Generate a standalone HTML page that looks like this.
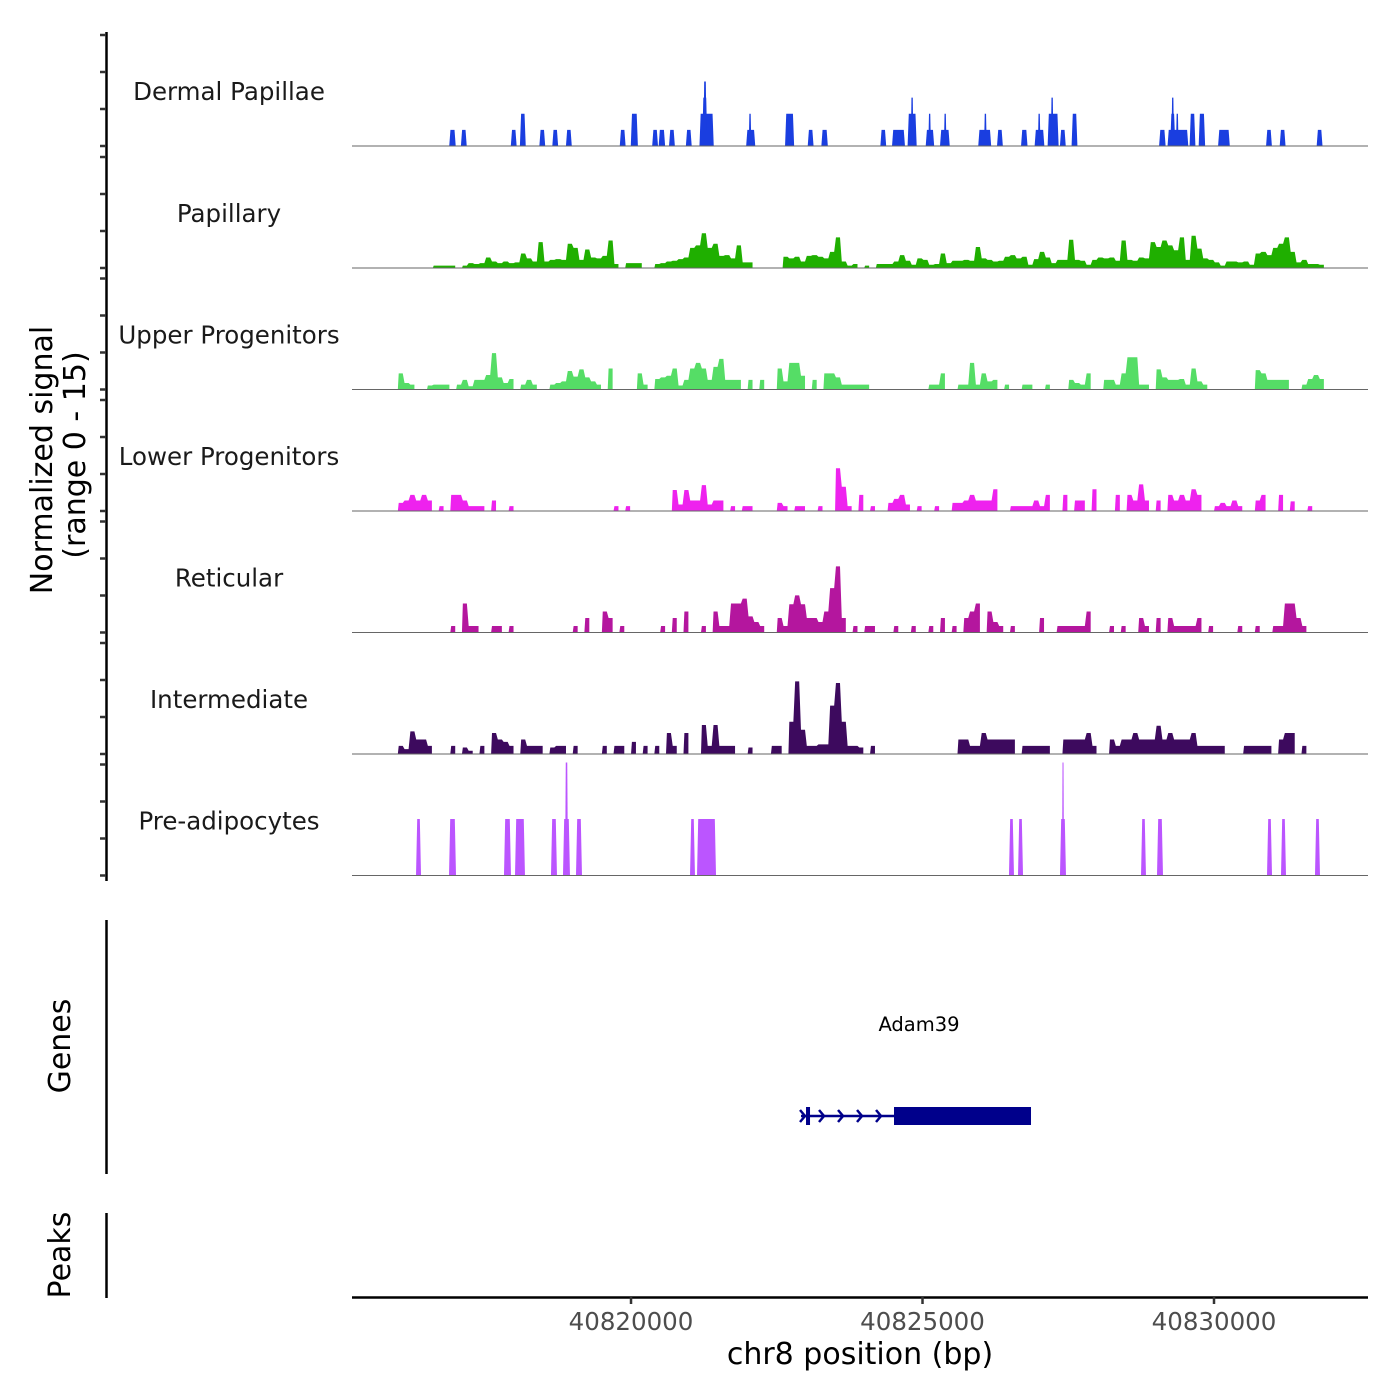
<!DOCTYPE html>
<html><head><meta charset="utf-8"><style>
html,body{margin:0;padding:0;background:#fff;}
svg{display:block;font-family:"DejaVu Sans","Liberation Sans",sans-serif;}
</style></head><body>
<svg id="chart" width="1400" height="1400" viewBox="0 0 1400 1400" xmlns="http://www.w3.org/2000/svg">
<rect x="0" y="0" width="1400" height="1400" fill="#fff"/>
<g id="tracks"></g>
<g id="leftaxis"></g>
<text transform="translate(52,460) rotate(-90)" text-anchor="middle" font-size="30" fill="#000">Normalized signal</text>
<text transform="translate(85,455) rotate(-90)" text-anchor="middle" font-size="30" fill="#000">(range 0 - 15)</text>
<line x1="106.5" y1="920" x2="106.5" y2="1174" stroke="#000" stroke-width="2.5"/>
<text transform="translate(70,1046) rotate(-90)" text-anchor="middle" font-size="30" fill="#000">Genes</text>
<line x1="106.5" y1="1213" x2="106.5" y2="1298" stroke="#000" stroke-width="2.5"/>
<text transform="translate(70,1255) rotate(-90)" text-anchor="middle" font-size="30" fill="#000">Peaks</text>
<g id="gene"></g>
<g id="xaxis"></g>
<text x="860" y="1364" text-anchor="middle" font-size="30" fill="#000">chr8 position (bp)</text>
</svg>
<script>
const NS="http://www.w3.org/2000/svg";
const trackNames=["Dermal Papillae","Papillary","Upper Progenitors","Lower Progenitors","Reticular","Intermediate","Pre-adipocytes"];
const trackColors=["#1a3ee0","#1faf00","#55dd66","#ee22ee","#b4169e","#3d0a5e","#bb55ff"];
const xTicks=[40820000,40825000,40830000];
const binStart=40815200;
const binSize=100;
// block tracks: [start, end, height]
const dermalBlocks=[[40816882,40816993,2],[40817082,40817182,2],[40817938,40818038,2],[40818094,40818194,4],[40818428,40818528,2],[40818650,40818750,2],[40818884,40818984,2],[40819807,40819907,2],[40819996,40820118,4],[40820363,40820463,2],[40820474,40820585,2],[40820652,40820752,2],[40820941,40821041,2],[40821174,40821419,4],[40821220,40821310,6],[40821241,40821297,8],[40821975,40822131,2],[40822019,40822064,4],[40822642,40822798,4],[40823031,40823131,2],[40823265,40823376,2],[40824277,40824377,2],[40824477,40824699,2],[40824744,40824900,4],[40824799,40824844,6],[40825055,40825200,2],[40825100,40825144,4],[40825300,40825467,2],[40825367,40825411,4],[40825956,40826178,2],[40826056,40826101,4],[40826278,40826378,2],[40826690,40826801,2],[40826923,40827090,2],[40826979,40827023,4],[40827146,40827335,4],[40827201,40827246,6],[40827357,40827457,2],[40827557,40827657,4],[40829058,40829170,2],[40829203,40829559,2],[40829248,40829336,4],[40829270,40829314,6],[40829348,40829392,4],[40829581,40829681,4],[40829737,40829848,4],[40830070,40830271,2],[40830893,40830993,2],[40831127,40831227,2],[40831761,40831861,2]];
const preadipBlocks=[[40816312,40816398,7],[40816878,40816998,7],[40817821,40817941,7],[40818010,40818181,7],[40818627,40818730,7],[40818833,40818953,7],[40818868,40818919,14],[40819056,40819159,7],[40821012,40821097,7],[40821132,40821458,7],[40826483,40826569,7],[40826638,40826724,7],[40827358,40827461,7],[40827393,40827427,14],[40828748,40828833,7],[40829022,40829125,7],[40830909,40830995,7],[40831149,40831235,7],[40831732,40831818,7]];
// binned tracks (100 bp bins from 40815200)
const papillaryBins=[0,0,0,0,0,0,0,0,0,0, 0,0,0,0,0.3,0.3,0.3,0.3,0,0.3, 0.6,0.5,0.6,1.3,0.8,0.6,0.8,0.6,0.7,1.8, 1.2,0.8,3.2,0.8,1,1.1,1,3,2.5,1, 2.3,1.3,1.2,1.5,3.4,0.5,0,0.6,0.6,0.6, 0,0,0.5,0.6,0.8,0.9,1.1,1.3,2.5,2.8, 4.3,2.5,3,1.5,1.6,1.2,2.8,0.7,0.7,0, 0,0,0,0,1.4,1.2,1.4,0.8,1.5,1.6, 1.4,1.2,2,3.8,0.8,0.3,0.5,0,0.3,0, 0.5,0.5,0.5,0.8,1.6,0.9,0.4,1.2,1,0.4, 0.5,1.8,0.6,0.9,0.9,1,0.9,2.6,1.2,1, 0.8,0.9,1.4,1.6,1.2,1.4,0.4,1.1,2,1.3, 0.6,1,1,3.5,1,0.9,0.4,1,1.3,1.2, 1.3,0.9,3.4,1,0.9,1.3,1.2,3.2,2.6,3.4, 2.8,2.2,3.8,1,4,2.4,1.2,1,0.7,0.3, 0.8,0.8,0.7,0.8,0.4,1.8,2,1.6,2.5,3, 3.8,2,0.7,1,0.5,0.5,0.4,0,0,0, 0,0,0,0,0];
const upperBins=[0,0,0,0,0,0,0,0,2,0.8, 0.6,0,0,0.5,0.6,0.6,0.6,0,0.6,1.2, 0.4,1.2,1.2,1.8,4.5,1.5,0.8,1.3,0,0.6, 1.2,0.6,0,0,0.6,0.8,1,2.3,1.6,2.5, 1.5,1,0.6,0,2.6,0,0,0,0,2, 0.6,0,1.3,1.5,1.7,2.6,0.5,1.2,2.6,3.3, 2.6,1.2,2.8,3.8,1.2,1.2,1.2,0,1.2,0, 1.2,0,0,2.6,1,3.3,3.3,1.7,0,1.2, 0,2,2,1.5,0.6,0.6,0.6,0.6,0.6,0, 0,0,0,0,0,0,0,0,0,0.6, 0.6,2,0,0,0.6,0.6,3.3,0.6,2,1, 1.2,0,0.6,0,0,0.6,0.6,0,0,0.6, 0,0,0,1.2,0.8,0.6,2,0,0,1.2, 1.2,0.6,2,4,4,0.6,0.6,0,2.5,1.5, 1.2,1.2,1.3,0.6,2.6,1,0.6,0,0,0, 0,0,0,0,0,2.4,2,1.2,1.2,1.2, 1.2,0,0,0.6,1.3,1.8,1.3,0,0,0, 0,0,0,0,0];
const lowerBins=[0,0,0,0,0,0,0,0,1,1.3, 2,1.3,2,1.3,0,0.6,0,2,2,1.3, 0.6,0.6,0.6,0,1.3,0,0,0.6,0,0, 0,0,0,0,0,0,0,0,0,0, 0,0,0,0,0,0.6,0,0.6,0,0, 0,0,0,0,0,2.6,0.8,2.6,1.3,1.3, 3.2,0.8,1.3,1.3,0,0.6,0,0.6,0.6,0, 0,0,0,1,0.6,0,0.6,0.6,0,0, 0.6,0,0,5.3,3,0.6,0,2,0,0.6, 0,0,1,1.5,2,0.8,0,0.6,0,0, 0.6,0,0,1,1,1.3,2,1.3,1.3,1.3, 2.7,0,0,0.6,0.6,0.6,0.6,1.3,0.6,2, 0,0,2,0,1.3,1.3,0,2.7,0,0, 0,2,0,2,1.3,3.3,1.3,0,1.3,0, 2,1.3,2,1.3,2.7,2,0,0,0.6,1, 0.6,1.3,0.6,0,0,1.3,2,0,0,2, 0,1.2,0,0,0.6,0,0,0,0,0, 0,0,0,0,0];
const reticularBins=[0,0,0,0,0,0,0,0,0,0, 0,0,0,0,0,0,0,0.8,0,3.6, 0.8,0.8,0,0,0.8,0.8,0,0.8,0,0, 0,0,0,0,0,0,0,0,0.8,0, 1.8,0,0,2.6,1.8,0,0.8,0,0,0, 0,0,0,0.8,0,1.8,0,2.6,0,0, 0.8,0,2.6,0.8,0.8,3.6,3.6,4.2,2,1.3, 0.8,0,0,1.8,0.8,3.5,4.6,3.5,1.8,1.8, 1.3,2.6,5.5,8.2,1.8,0,0.8,0,0.8,0.8, 0,0,0,0.8,0,0,0.8,0,0,0.8, 0,1.8,0,0.8,0,1.8,2.6,3.6,0,2.6, 1.3,0.8,0,0.8,0,0,0,0,1.8,0, 0,0.8,0.8,0.8,0.8,0.8,2.6,0,0,0, 0.8,0,0.8,0,0,1.8,0.8,0,1.8,0, 1.8,0.8,0.8,0.8,0.8,1.8,0,0.8,0,0, 0,0,0.8,0,0,0.8,0,0,0.8,0.8, 3.6,3.6,1.8,0.8,0,0,0,0,0,0, 0,0,0,0,0];
const intermediateBins=[0,0,0,0,0,0,0,0,1,0.6, 2.8,1.8,1.8,1,0,0,0,1,0,0.8, 0.4,0,1,0,2.6,1.8,1.5,1,0,1.8, 1,1,1,0,0.8,1,1,0,1,0, 0,0,0,1,0,1,1,0,1.5,0, 1,0,1,0,2.6,1,0,2.6,0,0, 3.6,1,3.6,1,1,1,0,0,0.8,0, 0,0,1,1,0,4,9,3,1,1, 1.2,1.2,6,8.8,4,1,1,0.8,0,1, 0,0,0,0,0,0,0,0,0,0, 0,0,0,0,1.8,1.8,1,1,2.6,1.8, 1.8,1.8,1.8,1.8,0,1,1,1,1,1, 0,0,1.8,1.8,1.8,1.8,2.6,1,0,0, 1.8,1,1.8,1.8,2.6,1.8,1.8,1.8,3.5,1.8, 2.6,1.8,1.8,1.8,2.6,1,1,1,1,1, 0,0,0,1,1,1,1,1,0,1.8, 2.6,2.6,0,1,0,0,0,0,0,0, 0,0,0,0,0];
const geneName="Adam39";
const geneStart=40822916, cdsStart=40824511, geneEnd=40826861;

const X0=352,X1=1368,BP0=40815214,BPPX=17.153;
function xScale(bp){return X0+(bp-BP0)/BPPX;}
const baselines=[146,268,389.5,511,632.5,754,875.5];
const UNIT=8.07;
function yScale(v,i){return baselines[i]-v*UNIT;}

const tracksG=document.getElementById('tracks');
function mk(tag,attrs,parent){const e=document.createElementNS(NS,tag);for(const k in attrs)e.setAttribute(k,attrs[k]);parent.appendChild(e);return e;}

function drawBlocks(blocks,i){
  blocks.forEach(b=>{
    const x0=xScale(b[0]),x1=xScale(b[1]),y=yScale(b[2],i),base=baselines[i];
    const w=x1-x0,s=Math.min(1.2,w/4);
    const p=mk('polygon',{points:`${x0},${base} ${x0+s},${y} ${x1-s},${y} ${x1},${base}`,fill:trackColors[i]},tracksG);
    
    
  });
}
function drawBins(bins,i){
  let pts=null;const base=baselines[i];
  const flush=()=>{if(pts&&pts.length){const last=pts[pts.length-1];pts.push(`${last.split(',')[0]},${base}`);
    const p=mk('polygon',{points:pts.join(' '),fill:trackColors[i]},tracksG);
    
    }pts=null;};
  bins.forEach((v,k)=>{
    const xa=xScale(binStart+k*binSize),xb=xScale(binStart+(k+1)*binSize);
    if(v>0){
      const y=yScale(v,i);
      if(!pts){pts=[`${xa},${base}`];}
      pts.push(`${xa+0.9},${y}`);pts.push(`${xb-0.9},${y}`);
    } else flush();
  });
  flush();
}
drawBlocks(dermalBlocks,0);
drawBins(papillaryBins,1);
drawBins(upperBins,2);
drawBins(lowerBins,3);
drawBins(reticularBins,4);
drawBins(intermediateBins,5);
drawBlocks(preadipBlocks,6);

trackNames.forEach((n,i)=>{
  const bl=mk('line',{x1:X0,y1:baselines[i],x2:X1,y2:baselines[i],stroke:'#666','stroke-width':1},tracksG);
  
  
  const t=mk('text',{x:229,y:baselines[i]-46,'text-anchor':'middle','font-size':24.5,fill:'#1a1a1a'},tracksG);
  t.textContent=n;
  
  
});

const la=document.getElementById('leftaxis');
mk('line',{x1:106.5,y1:32,x2:106.5,y2:881,stroke:'#000','stroke-width':2.5},la);
baselines.forEach((b,i)=>{
  for(let k=0;k<4;k++){
    const y=b-k*37;
    const t=mk('line',{x1:100,y1:y,x2:106,y2:y,stroke:'#333','stroke-width':2.5},la);
    
    
  }
});

// gene
const g=document.getElementById('gene');
const gy=1116,gs=xScale(geneStart),gc=xScale(cdsStart),ge=xScale(geneEnd);
mk('line',{x1:gs,y1:gy,x2:gc,y2:gy,stroke:'#00008b','stroke-width':2.5},g);
mk('rect',{x:gc,y:gy-9,width:ge-gc,height:18,fill:'#00008b'},g);
mk('rect',{x:gs+5,y:gy-9,width:4,height:18,fill:'#00008b'},g);
for(let k=0;k<5;k++){
  const cx=gs+2+k*19;
  const c=mk('polyline',{points:`${cx-3},${gy-6} ${cx+2},${gy} ${cx-3},${gy+6}`,fill:'none',stroke:'#00008b','stroke-width':2.5},g);
  
  
}
const gl=mk('text',{x:(gs+ge)/2+3,y:1031,'text-anchor':'middle','font-size':19.5,fill:'#000'},g);
gl.textContent=geneName;



// x axis
const xa=document.getElementById('xaxis');
mk('line',{x1:X0,y1:1297.5,x2:X1,y2:1297.5,stroke:'#000','stroke-width':2.5},xa);
xTicks.forEach(v=>{
  const x=xScale(v);
  const t=mk('line',{x1:x,y1:1297,x2:x,y2:1304,stroke:'#333','stroke-width':2.5},xa);
  
  
  const l=mk('text',{x:x,y:1330,'text-anchor':'middle','font-size':24.5,fill:'#4d4d4d'},xa);
  l.textContent=String(v);
  
  
});
</script>
</body></html>
